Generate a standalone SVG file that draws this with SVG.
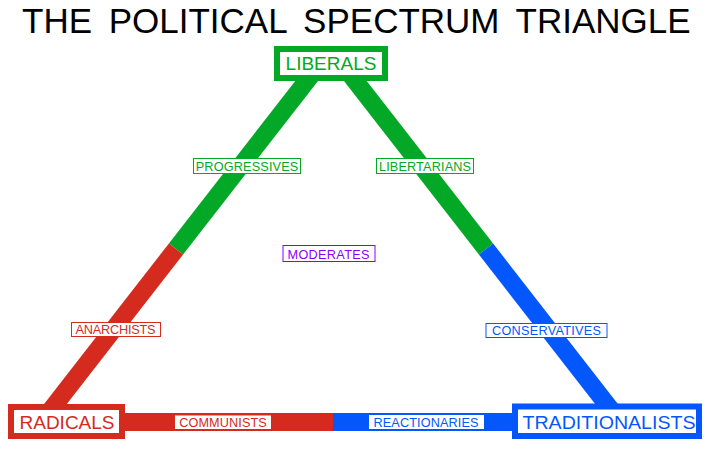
<svg xmlns="http://www.w3.org/2000/svg" width="713" height="452" viewBox="0 0 713 452">
<style>
text{font-family:"Liberation Sans",Arial,sans-serif;text-anchor:middle}
.g{fill:#03a826}.r{fill:#d42b1e}.b{fill:#0457fd}.p{fill:#8a00ff}
.big{font-size:19px}
.sm{font-size:12.7px}
.lb{fill:#fff;stroke-width:1}
.nb{fill:#fff;stroke-width:6}
</style>
<rect width="713" height="452" fill="#fff"/>
<text x="22" y="33" style="text-anchor:start;font-size:35px;word-spacing:7px" fill="#000">THE POLITICAL SPECTRUM TRIANGLE</text>
<g id="connectors">
<line x1="323" y1="60" x2="176" y2="249" stroke="#03a826" stroke-width="18"/>
<line x1="176" y1="249" x2="43" y2="420" stroke="#d42b1e" stroke-width="18"/>
<line x1="339" y1="60" x2="486" y2="249" stroke="#03a826" stroke-width="18"/>
<line x1="486" y1="249" x2="619" y2="420" stroke="#0457fd" stroke-width="18"/>
<rect x="115" y="413" width="218.5" height="18" fill="#d42b1e"/>
<rect x="333" y="413" width="185" height="18" fill="#0457fd"/>
</g>
<g id="liberals">
<rect class="nb" x="277" y="49" width="108" height="29" stroke="#03a826"/>
<text class="g big" x="331" y="70">LIBERALS</text>
</g>
<g id="radicals">
<rect class="nb" x="11" y="407" width="111" height="29" stroke="#d42b1e"/>
<text class="r big" x="67" y="429">RADICALS</text>
</g>
<g id="traditionalists">
<rect class="nb" x="515" y="406.5" width="184" height="29.5" stroke="#0457fd" stroke-width="5.5"/>
<text class="b big" x="609" y="428.5" textLength="173" lengthAdjust="spacingAndGlyphs">TRADITIONALISTS</text>
</g>
<g id="progressives">
<rect class="lb" x="193.5" y="158.5" width="107" height="15" stroke="#03a826"/>
<text class="g sm" x="247" y="171" textLength="102.5">PROGRESSIVES</text>
</g>
<g id="libertarians">
<rect class="lb" x="376.5" y="158.5" width="97" height="15" stroke="#03a826"/>
<text class="g sm" x="425" y="171" textLength="92">LIBERTARIANS</text>
</g>
<g id="moderates">
<rect class="lb" x="283" y="245.5" width="92" height="16" stroke="#8a00ff"/>
<text class="p sm" x="328.5" y="259" textLength="82">MODERATES</text>
</g>
<g id="anarchists">
<rect class="lb" x="71.5" y="322.5" width="89" height="14" stroke="#d42b1e"/>
<text class="r sm" x="115.5" y="334.3" textLength="80">ANARCHISTS</text>
</g>
<g id="conservatives">
<rect class="lb" x="486" y="323.5" width="121" height="14" stroke="#0457fd"/>
<text class="b sm" x="546.5" y="335" textLength="109">CONSERVATIVES</text>
</g>
<g id="communists">
<rect x="175" y="415.5" width="96" height="13.5" fill="#fff"/>
<text class="r sm" x="223" y="427" textLength="87.5">COMMUNISTS</text>
</g>
<g id="reactionaries">
<rect x="369" y="415" width="115" height="14" fill="#fff"/>
<text class="b sm" x="426" y="427" textLength="105">REACTIONARIES</text>
</g>
</svg>
